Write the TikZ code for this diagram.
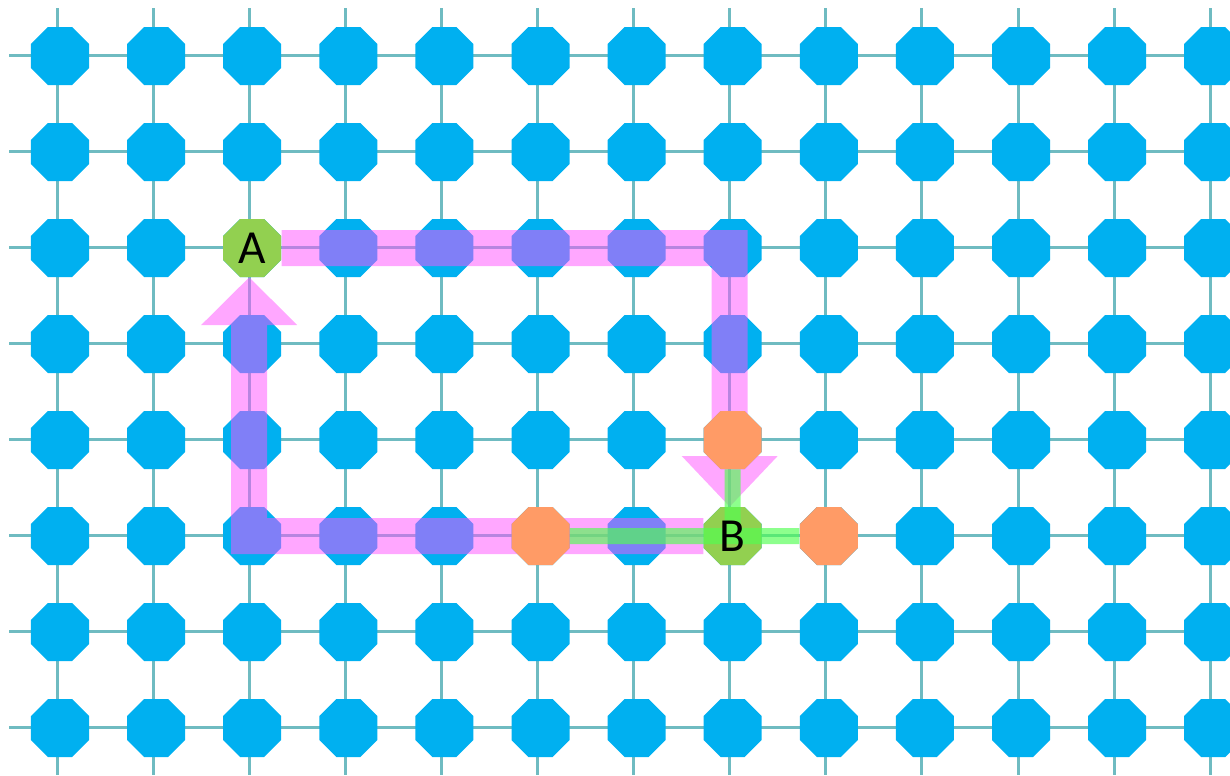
\documentclass[tikz,border=0pt]{standalone}
\usepackage{fontspec}
\setmainfont{Carlito}
\usetikzlibrary{shapes.geometric,calc}
\definecolor{octblue}{RGB}{0,176,240}
\definecolor{gridteal}{RGB}{111,187,193}
\definecolor{octorange}{RGB}{255,155,102}
\definecolor{octgreen}{RGB}{146,208,80}
\definecolor{bandpink}{RGB}{255,80,255}
\definecolor{bandgreen}{RGB}{80,255,80}

\begin{document}
\begin{tikzpicture}[x=0.02cm,y=-0.02cm,
    oct/.style={regular polygon,regular polygon sides=8,minimum size=1.256cm,inner sep=0pt,fill=octblue},
    lbl/.style={font=\fontsize{27}{30}\selectfont,text=black}]
        \def\dx{96.1}
        \def\dy{96}
        \useasboundingbox (0,0) rectangle (1230,775);
        %Grid points
        \foreach \i in {0,...,12}
            \foreach \j in {0,...,7}
                \coordinate (g-\i-\j) at (57+\dx*\i,55+\dy*\j);
        %Grid lines
        \foreach \i in {0,...,12}
            \draw[gridteal,line width=0.06cm] ($(g-\i-0)+(0,-47)$) -- ($(g-\i-7)+(0,48)$);
        \foreach \j in {0,...,7}
            \draw[gridteal,line width=0.06cm] ($(g-0-\j)+(-48,0)$) -- ($(g-12-\j)+(20,0)$);
        %Octagons
        \foreach \i in {0,...,12}
            \foreach \j in {0,...,7}
                \node[oct] (o-\i-\j) at ($(g-\i-\j)+(3,1)$) {};
        %Pink paths
        \coordinate (h1) at ($(g-7-4)+(0,17)$);
        \coordinate (h2) at ($(g-2-3)+(0,-18)$);
        \begin{scope}[transparency group,opacity=0.5]
            \draw[bandpink,line width=0.72cm] (o-2-2.east) -| (h1);
            \fill[bandpink] ($(h1)+(-48,0)$) -- ($(h1)+(48,0)$) -- (h1 |- o-7-5.north) -- cycle;
            \draw[bandpink,line width=0.72cm] (o-7-5.west) -| (h2);
            \fill[bandpink] ($(h2)+(-48,0)$) -- ($(h2)+(48,0)$) -- (h2 |- o-2-2.south) -- cycle;
        \end{scope}
        %Marked octagons
        \node[oct,fill=octgreen] (A) at (o-2-2) {};
        \node[oct,fill=octgreen] (B) at (o-7-5) {};
        \node[oct,fill=octorange] (r1) at (o-5-5) {};
        \node[oct,fill=octorange] (r2) at (o-7-4) {};
        \node[oct,fill=octorange] (r3) at (o-8-5) {};
        %Green paths
        \begin{scope}[transparency group,opacity=0.65]
            \draw[bandgreen,line width=0.32cm] (r1.east) -- (r3.west);
            \draw[bandgreen,line width=0.32cm] (r2.south) -- (B.center);
        \end{scope}
        %Labels
        \node[lbl] (la) at (A) {A};
        \node[lbl] (lb) at (B) {B};
\end{tikzpicture}
\end{document}
